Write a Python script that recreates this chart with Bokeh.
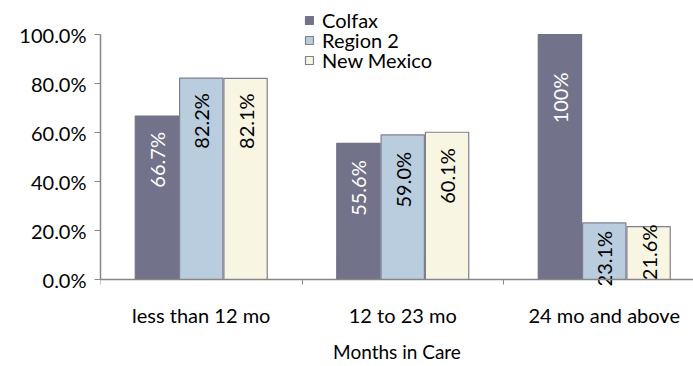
from bokeh.plotting import figure
from bokeh.models import Range1d, FixedTicker, PrintfTickFormatter, Legend, LegendItem, ColumnDataSource
from bokeh.core.properties import value
from bokeh.embed import file_html
from bokeh.resources import INLINE
import math

categories = ["less than 12 mo", "12 to 23 mo", "24 mo and above"]
series = ["Colfax", "Region 2", "New Mexico"]
colfax = [66.7, 55.6, 100.0]
region2 = [82.2, 59.0, 23.1]
new_mexico = [82.1, 60.1, 21.6]
labels_colfax = ["66.7%", "55.6%", "100%"]
labels_region2 = ["82.2%", "59.0%", "23.1%"]
labels_nm = ["82.1%", "60.1%", "21.6%"]
y_ticks = [0, 20, 40, 60, 80, 100]

# styling
fills = ["#72728a", "#b9cddf", "#f8f6e2"]
borders = ["#72728a", "#7f7f92", "#7f7f92"]
text_colors = ["#ffffff", "#000000", "#000000"]
shifts = [-0.22, 0.0, 0.22]
bar_w = 0.215
label_dy = [[16, 17, 38], [15, 17, 8], [15, 16, -2]]
legend_y = [334, 314, 294]  # screen offsets of the legend entries
FONT = "Lato"
FS = "20px"
PX = 2.45  # pixels per percent point

# frame covers the whole canvas; x axis fixed at 0, y axis bounded to 0..100
p = figure(width=693, height=366, output_backend="svg", toolbar_location=None,
           x_range=Range1d(0, 593 / 201.5), y_range=Range1d(-87 / PX, 279 / PX),
           min_border_left=100, min_border_right=0, min_border_top=0, min_border_bottom=0,
           frame_width=593, frame_height=366)
p.outline_line_color = None
p.xgrid.visible = False
p.ygrid.visible = False

vals = [colfax, region2, new_mexico]
labs = [labels_colfax, labels_region2, labels_nm]
renderers = []
for i in range(3):
    xs = [j + 0.5 + shifts[i] for j in range(len(categories))]
    src = ColumnDataSource(dict(x=xs, top=vals[i], lab=labs[i], dy=label_dy[i]))
    r = p.vbar(x="x", top="top", width=bar_w, source=src, fill_color=fills[i],
               line_color=borders[i], line_width=1.2)
    renderers.append(r)
    p.text(x="x", y="top", text="lab", source=src, angle=math.pi / 2,
           text_align="right", text_baseline="middle", y_offset="dy",
           text_color=text_colors[i], text_font=value(FONT), text_font_size=FS)

for i in range(3):
    legend = Legend(items=[LegendItem(label=series[i], renderers=[renderers[i]])],
                    location=(204, legend_y[i]), orientation="vertical",
                    background_fill_alpha=0, border_line_color=None,
                    padding=0, margin=0, spacing=0, glyph_width=10, glyph_height=10,
                    label_standoff=8, label_height=16,
                    label_text_font=FONT, label_text_font_size=FS, label_text_color="#000000")
    p.add_layout(legend, "center")

axis_color = "#868686"
p.xaxis.fixed_location = 0
p.xaxis.ticker = FixedTicker(ticks=[0.5, 1.5, 2.5], minor_ticks=[0, 1, 2, 3])
p.xaxis.major_label_overrides = {0.5: categories[0], 1.5: categories[1], 2.5: categories[2]}
p.xaxis.major_tick_out = 0
p.xaxis.major_tick_in = 0
p.xaxis.minor_tick_out = 5
p.xaxis.minor_tick_in = 0
p.xaxis.minor_tick_line_color = axis_color
p.xaxis.axis_line_color = axis_color
p.xaxis.axis_line_width = 1.5
p.xaxis.major_label_text_font = FONT
p.xaxis.major_label_text_font_size = FS
p.xaxis.major_label_text_color = "#000000"
p.xaxis.major_label_standoff = 18
p.xaxis.axis_label = "Months in Care"
p.xaxis.axis_label_text_font = FONT
p.xaxis.axis_label_text_font_size = "19px"
p.xaxis.axis_label_text_font_style = "normal"
p.xaxis.axis_label_text_color = "#000000"
p.xaxis.axis_label_standoff = 10

p.yaxis.ticker = FixedTicker(ticks=y_ticks, minor_ticks=[])
p.yaxis.bounds = (0, 100)
p.yaxis.formatter = PrintfTickFormatter(format="%.1f%%")
p.yaxis.major_tick_out = 6
p.yaxis.major_tick_in = 0
p.yaxis.major_tick_line_color = axis_color
p.yaxis.axis_line_color = axis_color
p.yaxis.axis_line_width = 1.5
p.yaxis.major_label_text_font = FONT
p.yaxis.major_label_text_font_size = FS
p.yaxis.major_label_text_color = "#000000"
p.yaxis.major_label_standoff = 8

open("out.html", "w").write(file_html(p, INLINE))
